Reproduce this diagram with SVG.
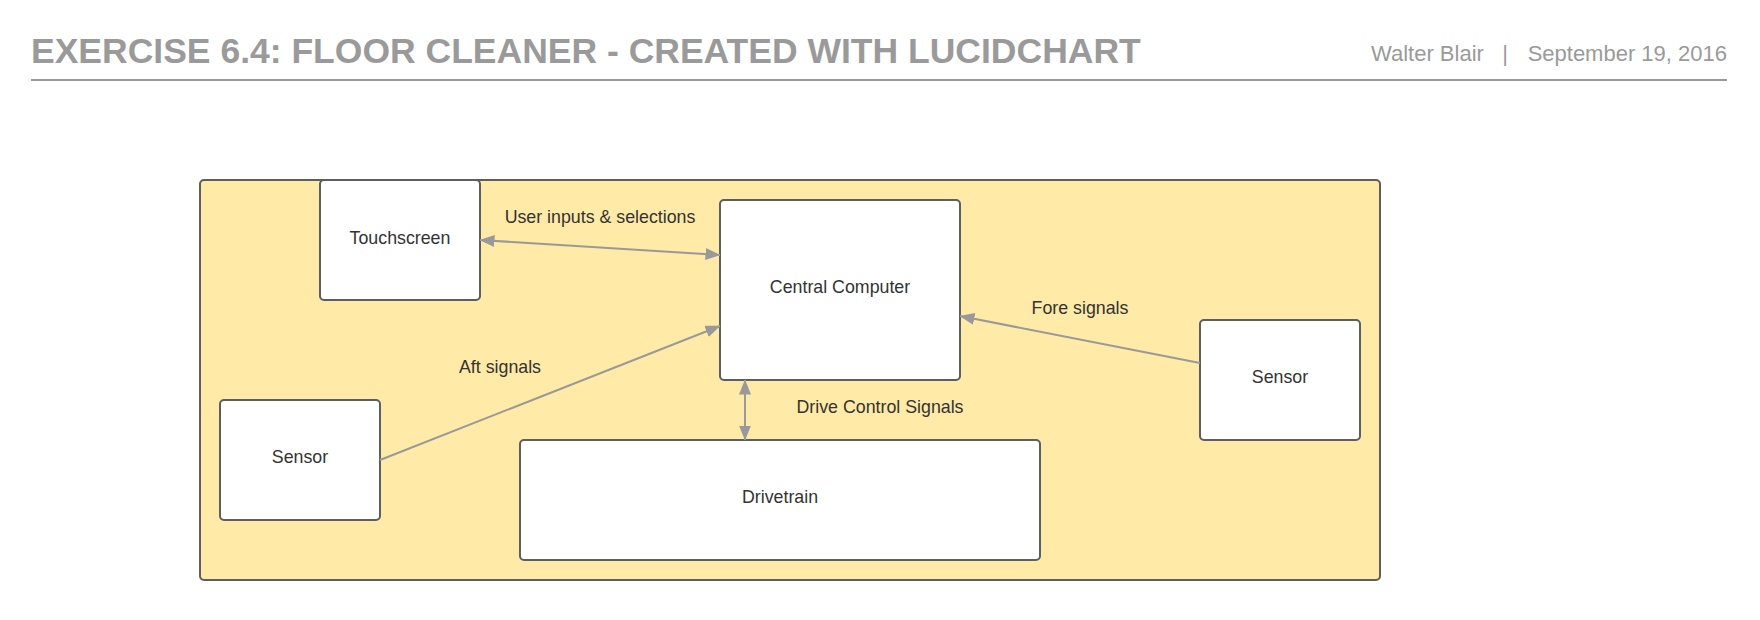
<svg xmlns="http://www.w3.org/2000/svg" width="1760" height="620" viewBox="0 0 1760 620">
<style>
.hdr{font-family:"Liberation Sans",Arial,sans-serif;fill:#9a9a9a}
.title{font-size:35.5px;font-weight:bold}
.meta{font-size:22px}
.box{fill:#ffffff;stroke:#5e5e5e;stroke-width:2}
.cont{fill:#ffeaa7;stroke:#5e5e5e;stroke-width:2}
.lbl{font-family:"Liberation Sans",Arial,sans-serif;font-size:17.8px;fill:#333333;text-anchor:middle}
.con{fill:none;stroke:#999999;stroke-width:2}
</style>
<defs>
<marker id="ah" markerUnits="userSpaceOnUse" markerWidth="15" markerHeight="12" refX="14.5" refY="6" orient="auto-start-reverse" viewBox="0 0 15 12">
<path d="M0,0 L15,6 L0,12 z" fill="#999999"/>
</marker>
</defs>
<rect width="1760" height="620" fill="#ffffff"/>
<g id="header">
<text class="hdr title" x="31" y="63">EXERCISE 6.4: FLOOR CLEANER - CREATED WITH LUCIDCHART</text>
<text class="hdr meta" x="1371" y="61">Walter Blair</text>
<text class="hdr meta" x="1505" y="61" text-anchor="middle">|</text>
<text class="hdr meta" x="1727" y="61" text-anchor="end">September 19, 2016</text>
<line x1="31" y1="80" x2="1727" y2="80" stroke="#999999" stroke-width="2"/>
</g>
<g id="container">
<rect class="cont" x="200" y="180" width="1180" height="400" rx="4"/>
</g>
<g id="touchscreen">
<rect class="box" x="320" y="180" width="160" height="120" rx="4"/>
<text class="lbl" x="400" y="243.5">Touchscreen</text>
</g>
<g id="central-computer">
<rect class="box" x="720" y="200" width="240" height="180" rx="4"/>
<text class="lbl" x="840" y="293">Central Computer</text>
</g>
<g id="sensor-right">
<rect class="box" x="1200" y="320" width="160" height="120" rx="4"/>
<text class="lbl" x="1280" y="383">Sensor</text>
</g>
<g id="sensor-left">
<rect class="box" x="220" y="400" width="160" height="120" rx="4"/>
<text class="lbl" x="300" y="463">Sensor</text>
</g>
<g id="drivetrain">
<rect class="box" x="520" y="440" width="520" height="120" rx="4"/>
<text class="lbl" x="780" y="503">Drivetrain</text>
</g>
<g id="connectors">
<path class="con" d="M480,240 L720,255" marker-start="url(#ah)" marker-end="url(#ah)"/>
<path class="con" d="M380,460 L720,326" marker-end="url(#ah)"/>
<path class="con" d="M1200,363 L960,316" marker-end="url(#ah)"/>
<path class="con" d="M745,380 L745,440" marker-start="url(#ah)" marker-end="url(#ah)"/>
<text class="lbl" x="600" y="223">User inputs &amp; selections</text>
<text class="lbl" x="500" y="373">Aft signals</text>
<text class="lbl" x="1080" y="314">Fore signals</text>
<text class="lbl" x="880" y="413">Drive Control Signals</text>
</g>
</svg>
